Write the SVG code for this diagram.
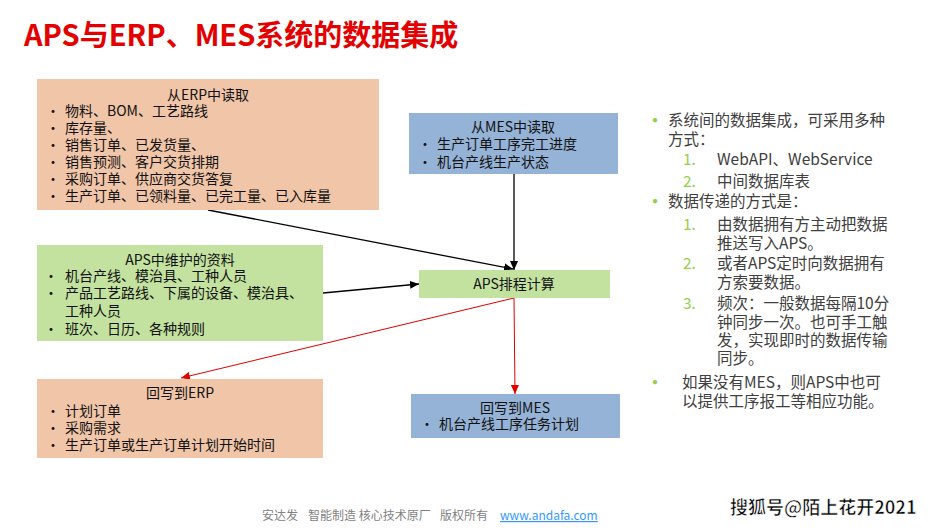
<svg xmlns="http://www.w3.org/2000/svg" width="938" height="529" viewBox="0 0 938 529">
<style>
text{font-family:"Noto Sans CJK SC","Microsoft YaHei",sans-serif;}
.t{font-size:14px;fill:#111;}
.c{text-anchor:middle;}
.erp{fill:#F0C5A8;}
.mes{fill:#95B3D7;}
.aps{fill:#C3E19F;}
.r{font-size:15.5px;fill:#404040;}
.g{font-size:15.5px;fill:#92D050;}
.gb{font-size:20px;fill:#92D050;}
.f{font-size:12px;fill:#7F7F7F;}
.blk{stroke:#000;stroke-width:1.3;fill:none;}
.red{stroke:#E00000;stroke-width:1;fill:none;}
</style>
<defs>
<marker id="ab" viewBox="0 0 10 10" refX="10" refY="5" markerWidth="9" markerHeight="9" markerUnits="userSpaceOnUse" orient="auto"><path d="M0,0.5 L10,5 L0,9.5 z" fill="#000"/></marker>
<marker id="ar" viewBox="0 0 10 10" refX="10" refY="5" markerWidth="9" markerHeight="9" markerUnits="userSpaceOnUse" orient="auto"><path d="M0,0.5 L10,5 L0,9.5 z" fill="#E00000"/></marker>
</defs>
<rect width="938" height="529" fill="#fff"/>
<text x="24" y="46" style="font-size:29px;font-weight:bold;fill:#E30000">APS与ERP、MES系统的数据集成</text>

<g id="connectors">
<line class="blk" x1="208" y1="210" x2="513" y2="269" marker-end="url(#ab)"/>
<line class="blk" x1="514" y1="174" x2="514" y2="270" marker-end="url(#ab)"/>
<line class="blk" x1="323" y1="293" x2="419" y2="284" marker-end="url(#ab)"/>
<line class="red" x1="514" y1="298" x2="181" y2="378" marker-end="url(#ar)"/>
<line class="red" x1="514" y1="298" x2="515" y2="394" marker-end="url(#ar)"/>
</g>

<g id="erp-read">
<rect class="erp" x="37" y="79" width="342" height="131"/>
<text class="t c" x="208" y="100">从ERP中读取</text>
<text class="t" x="46" y="116">•</text><text class="t" x="65" y="116">物料、BOM、工艺路线</text>
<text class="t" x="46" y="133">•</text><text class="t" x="65" y="133">库存量、</text>
<text class="t" x="46" y="150">•</text><text class="t" x="65" y="150">销售订单、已发货量、</text>
<text class="t" x="46" y="167">•</text><text class="t" x="65" y="167">销售预测、客户交货排期</text>
<text class="t" x="46" y="184">•</text><text class="t" x="65" y="184">采购订单、供应商交货答复</text>
<text class="t" x="46" y="201">•</text><text class="t" x="65" y="201">生产订单、已领料量、已完工量、已入库量</text>
</g>

<g id="mes-read">
<rect class="mes" x="409" y="113" width="209" height="61"/>
<text class="t c" x="513" y="132">从MES中读取</text>
<text class="t" x="418" y="149">•</text><text class="t" x="437" y="149">生产订单工序完工进度</text>
<text class="t" x="418" y="167">•</text><text class="t" x="437" y="167">机台产线生产状态</text>
</g>

<g id="aps-data">
<rect class="aps" x="37" y="245" width="286" height="96"/>
<text class="t c" x="180" y="265">APS中维护的资料</text>
<text class="t" x="44" y="281">•</text><text class="t" x="65" y="281">机台产线、模治具、工种人员</text>
<text class="t" x="44" y="298">•</text><text class="t" x="65" y="298">产品工艺路线、下属的设备、模治具、</text>
<text class="t" x="65" y="316">工种人员</text>
<text class="t" x="44" y="334">•</text><text class="t" x="65" y="334">班次、日历、各种规则</text>
</g>

<g id="aps-calc">
<rect class="aps" x="419" y="270" width="191" height="28"/>
<text class="t c" x="514" y="289">APS排程计算</text>
</g>

<g id="erp-write">
<rect class="erp" x="37" y="379" width="286" height="79"/>
<text class="t c" x="180" y="398">回写到ERP</text>
<text class="t" x="46" y="416">•</text><text class="t" x="65" y="416">计划订单</text>
<text class="t" x="46" y="433">•</text><text class="t" x="65" y="433">采购需求</text>
<text class="t" x="46" y="450">•</text><text class="t" x="65" y="450">生产订单或生产订单计划开始时间</text>
</g>

<g id="mes-write">
<rect class="mes" x="411" y="394" width="209" height="44"/>
<text class="t c" x="515" y="413">回写到MES</text>
<text class="t" x="420" y="429">•</text><text class="t" x="439" y="429">机台产线工序任务计划</text>
</g>

<g id="notes">
<text class="gb" x="645" y="128">•</text><text class="r" x="668" y="126">系统间的数据集成，可采用多种</text>
<text class="r" x="668" y="145">方式：</text>
<text class="g" x="683" y="165">1.</text><text class="r" x="717" y="165">WebAPI、WebService</text>
<text class="g" x="683" y="187">2.</text><text class="r" x="717" y="187">中间数据库表</text>
<text class="gb" x="645" y="209">•</text><text class="r" x="668" y="207">数据传递的方式是：</text>
<text class="g" x="683" y="230">1.</text><text class="r" x="717" y="230">由数据拥有方主动把数据</text>
<text class="r" x="717" y="249">推送写入APS。</text>
<text class="g" x="683" y="269">2.</text><text class="r" x="717" y="269">或者APS定时向数据拥有</text>
<text class="r" x="717" y="288">方索要数据。</text>
<text class="g" x="683" y="309">3.</text><text class="r" x="717" y="309">频次：一般数据每隔10分</text>
<text class="r" x="717" y="328">钟同步一次。也可手工触</text>
<text class="r" x="717" y="346">发，实现即时的数据传输</text>
<text class="r" x="717" y="364">同步。</text>
<text class="gb" x="645" y="390">•</text><text class="r" x="682" y="388">如果没有MES，则APS中也可</text>
<text class="r" x="682" y="407">以提供工序报工等相应功能。</text>
</g>

<g id="footer">
<text class="f" x="262" y="520">安达发</text>
<text class="f" x="308" y="520">智能制造 核心技术原厂</text>
<text class="f" x="440" y="520">版权所有</text>
<text x="500" y="520" style="font-size:12px;fill:#3399FF;text-decoration:underline">www.andafa.com</text>
<text x="730" y="514" style="font-size:18px;font-weight:bold;fill:#000;stroke:#fff;stroke-width:0.6">搜狐号@陌上花开2021</text>
</g>
</svg>
